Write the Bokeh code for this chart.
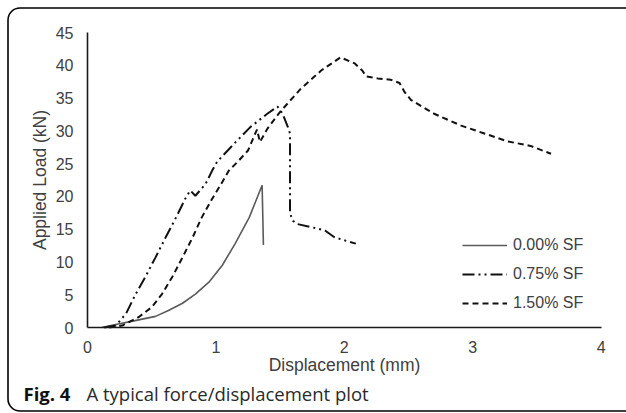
from bokeh.plotting import figure
from bokeh.models import Legend, LegendItem, Label, BoxAnnotation, FixedTicker
from bokeh.embed import file_html
from bokeh.resources import INLINE

# ---- data ----
sf000_x = [0.11, 0.22, 0.37, 0.53, 0.63, 0.74, 0.84, 0.95, 1.05, 1.15, 1.26,
           1.36, 1.37]
sf000_y = [0.0, 0.45, 1.05, 1.7, 2.6, 3.7, 5.1, 7.0, 9.5, 12.8, 16.8,
           21.7, 12.6]

sf075_x = [0.13, 0.22, 0.30, 0.37, 0.45, 0.53, 0.61, 0.69, 0.76, 0.80, 0.84,
           0.92, 0.97, 1.01, 1.14, 1.27, 1.40, 1.48, 1.52, 1.56, 1.577, 1.577,
           1.60, 1.63, 1.79, 1.85, 1.92, 2.00, 2.09]
sf075_y = [0.0, 0.3, 2.1, 4.9, 7.7, 10.7, 13.8, 16.8, 19.6, 20.9, 20.1,
           21.9, 23.9, 25.3, 28.0, 30.6, 32.6, 33.7, 32.6, 30.6, 29.6, 17.4,
           16.3, 15.8, 15.1, 14.8, 13.8, 13.3, 12.8]

sf150_x = [0.17, 0.27, 0.40, 0.50, 0.58, 0.66, 0.74, 0.82, 0.89, 0.97, 1.05,
           1.10, 1.18, 1.25, 1.32, 1.343, 1.40, 1.50, 1.66, 1.82, 1.97, 2.08,
           2.14, 2.17, 2.26, 2.36, 2.43, 2.47, 2.52, 2.70, 2.91, 3.09, 3.27,
           3.45, 3.61]
sf150_y = [0.0, 0.3, 1.6, 3.1, 5.1, 7.7, 10.7, 13.8, 16.8, 19.6, 22.2,
           23.9, 25.5, 27.0, 30.2, 28.3, 30.3, 32.9, 36.4, 39.2, 41.2, 40.3,
           39.2, 38.3, 38.0, 37.8, 37.3, 35.9, 34.7, 32.6, 30.8, 29.6, 28.4,
           27.7, 26.5]

series_labels = ["0.00% SF", "0.75% SF", "1.50% SF"]
x_ticks = [0, 1, 2, 3, 4]
y_ticks = [0, 5, 10, 15, 20, 25, 30, 35, 40, 45]
x_title = "Displacement (mm)"
y_title = "Applied Load (kN)"
caption_bold = "Fig. 4"
caption_text = "A typical force/displacement plot"

# ---- layout (pixels) ----
W, H = 626, 413
X0_PX, X_PER_UNIT = 87.0, 128.4      # canvas x of data x=0, px per mm
Y0_PX, Y_PER_UNIT = 327.0, 295.0 / 45  # canvas y of data y=0, px per kN

x_start = -X0_PX / X_PER_UNIT
y_start = -(H - Y0_PX) / Y_PER_UNIT

p = figure(width=W, height=H, output_backend="svg", toolbar_location=None,
           x_range=(x_start, x_start + W / X_PER_UNIT),
           y_range=(y_start, y_start + H / Y_PER_UNIT),
           min_border=0, min_border_left=0, min_border_right=0,
           min_border_top=0, min_border_bottom=0)
p.grid.visible = False
p.outline_line_color = None
p.background_fill_color = "white"
p.border_fill_color = "white"

for ax in (p.xaxis[0], p.yaxis[0]):
    ax.fixed_location = 0
    ax.axis_line_color = "#1a1a1a"
    ax.axis_line_width = 1.6
    ax.major_tick_line_color = None
    ax.minor_tick_line_color = None
    ax.major_tick_out = 0
    ax.major_tick_in = 0
    ax.major_label_text_font = "Liberation Sans"
    ax.major_label_text_font_size = "16px"
    ax.major_label_text_color = "#404040"
    ax.axis_label_text_font = "Liberation Sans"
    ax.axis_label_text_font_size = "17.5px"
    ax.axis_label_text_font_style = "normal"
    ax.axis_label_text_color = "#404040"

p.xaxis[0].bounds = (x_ticks[0], x_ticks[-1])
p.yaxis[0].bounds = (y_ticks[0], y_ticks[-1])
p.xaxis[0].ticker = FixedTicker(ticks=x_ticks)
p.yaxis[0].ticker = FixedTicker(ticks=y_ticks)
p.xaxis[0].axis_label = x_title
p.yaxis[0].axis_label = y_title
p.xaxis[0].major_label_standoff = 13
p.xaxis[0].axis_label_standoff = -1
p.yaxis[0].major_label_standoff = 14
p.yaxis[0].axis_label_standoff = 3

r0 = p.line(sf000_x, sf000_y, line_color="#5a5a5a", line_width=1.6)
r1 = p.line(sf075_x, sf075_y, line_color="#111111", line_width=2,
            line_dash="12 4 2 4 2 4")
r2 = p.line(sf150_x, sf150_y, line_color="#111111", line_width=2,
            line_dash="6 4")

legend = Legend(items=[LegendItem(label=series_labels[0], renderers=[r0]),
                       LegendItem(label=series_labels[1], renderers=[r1]),
                       LegendItem(label=series_labels[2], renderers=[r2])],
                location=(462, H - 313), padding=0, margin=0, spacing=9,
                glyph_width=45, glyph_height=20, label_height=20,
                label_standoff=6, background_fill_alpha=0,
                border_line_color=None,
                label_text_font="Liberation Sans",
                label_text_font_size="16px", label_text_color="#404040")
p.add_layout(legend, "center")

# caption (screen units: from the canvas' bottom-left corner)
p.add_layout(Label(x=23, y=H - 392.5, x_units="screen", y_units="screen",
                   text=caption_bold, text_font="Open Sans",
                   text_font_style="bold", text_font_size="18.5px",
                   text_color="#111111", text_baseline="alphabetic"))
p.add_layout(Label(x=86, y=H - 392.5, x_units="screen", y_units="screen",
                   text=caption_text, text_font="Open Sans",
                   text_font_size="18.5px", text_color="#2a2a2a",
                   text_baseline="alphabetic"))

# rounded frame round the whole figure
p.add_layout(BoxAnnotation(left=7.5, right=W + 14, top=H - 7.5, bottom=H - 410.5,
                           left_units="screen", right_units="screen",
                           top_units="screen", bottom_units="screen",
                           fill_alpha=0, line_color="#000000", line_alpha=1.0,
                           line_width=1.6, border_radius=12,
                           level="overlay"))

open("out.html", "w").write(file_html(p, INLINE))
